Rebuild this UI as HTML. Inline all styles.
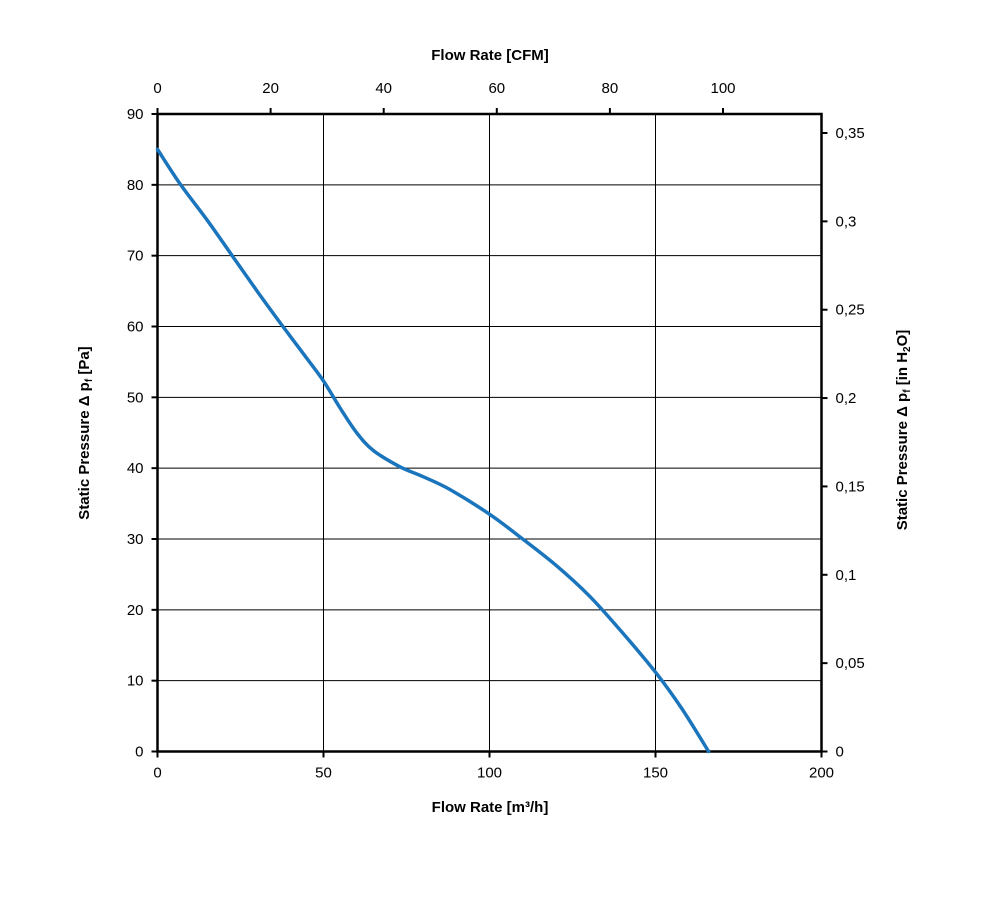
<!DOCTYPE html>
<html><head><meta charset="utf-8"><style>
html,body{margin:0;padding:0;background:#fff;}
svg{display:block;font-family:"Liberation Sans",Arial,sans-serif;}
</style></head><body>
<svg id="c" width="1000" height="900" viewBox="0 0 1000 900"></svg>
<script>
const flowM3h=[0,7,15,22.5,30,37,45,50,55,60,65,73,80,88,100,110,120,130,140,150,158,166];
const pressurePa=[85,80,75,70,65,60.5,55.5,52.3,48.5,45,42.5,40.2,38.8,37,33.5,30,26.3,22,16.8,11.2,6,0];
const xTicks=[0,50,100,150,200];
const yTicks=[0,10,20,30,40,50,60,70,80,90];
const cfmTicks=[0,20,40,60,80,100];
const inTicks=[0,0.05,0.1,0.15,0.2,0.25,0.3,0.35];
const inLabels=["0","0,05","0,1","0,15","0,2","0,25","0,3","0,35"];
const L=157.5,R=821.5,T=114,B=751.5;
const X=v=>L+(R-L)*v/200, Y=v=>B-(B-T)*v/90;
const XC=v=>L+v*5.655, YI=v=>B-v*(B-133)/0.35;
const s=document.getElementById('c'),NS='http://www.w3.org/2000/svg';
function el(t,a,p){const e=document.createElementNS(NS,t);for(const k in a)e.setAttribute(k,a[k]);(p||s).appendChild(e);return e;}
function txt(x,y,str,anchor,name,extra){const e=el('text',Object.assign({x:x,y:y,'font-size':15,'text-anchor':anchor,fill:'#000'},extra||{}));e.textContent=str;


return e;}
const g=el('g',{});


xTicks.forEach(v=>{if(v>0&&v<200){const l=el('line',{x1:X(v),x2:X(v),y1:T,y2:B,stroke:'#000','stroke-width':1},g);}});
yTicks.forEach(v=>{if(v>0&&v<90){const l=el('line',{x1:L,x2:R,y1:Y(v),y2:Y(v),stroke:'#000','stroke-width':1},g);}});
const fr=el('rect',{x:L,y:T,width:R-L,height:B-T,fill:'none',stroke:'#000','stroke-width':2.5});


xTicks.forEach(v=>{el('line',{x1:X(v),x2:X(v),y1:B,y2:B+6,stroke:'#000','stroke-width':2});txt(X(v),B+26,String(v),'middle','x-tick-label');});
yTicks.forEach(v=>{el('line',{x1:L-6,x2:L,y1:Y(v),y2:Y(v),stroke:'#000','stroke-width':2});txt(L-14,Y(v)+5,String(v),'end','y-tick-label');});
cfmTicks.forEach(v=>{el('line',{x1:XC(v),x2:XC(v),y1:T-6,y2:T,stroke:'#000','stroke-width':2});txt(XC(v),T-21,String(v),'middle','cfm-tick-label');});
inTicks.forEach((v,i)=>{el('line',{x1:R,x2:R+6,y1:YI(v),y2:YI(v),stroke:'#000','stroke-width':2});txt(R+14,YI(v)+5,inLabels[i],'start','inh2o-tick-label');});
const pts=flowM3h.map((v,i)=>[X(v),Y(pressurePa[i])]);
let d='M'+pts[0][0].toFixed(1)+' '+pts[0][1].toFixed(1);
for(let i=0;i<pts.length-1;i++){const p0=pts[Math.max(0,i-1)],p1=pts[i],p2=pts[i+1],p3=pts[Math.min(pts.length-1,i+2)];
const c1=[p1[0]+(p2[0]-p0[0])/6,p1[1]+(p2[1]-p0[1])/6],c2=[p2[0]-(p3[0]-p1[0])/6,p2[1]-(p3[1]-p1[1])/6];
d+=' C'+c1.map(n=>n.toFixed(1)).join(' ')+' '+c2.map(n=>n.toFixed(1)).join(' ')+' '+p2.map(n=>n.toFixed(1)).join(' ');}
const p=el('path',{d:d,fill:'none',stroke:'#1a75bc','stroke-width':3.5,'stroke-linejoin':'round','stroke-linecap':'round'});


txt(490,812,'Flow Rate  [m³/h]','middle','x-axis-title',{'font-weight':'bold','font-size':15});
txt(490,60,'Flow Rate  [CFM]','middle','top-axis-title',{'font-weight':'bold','font-size':15});
const yt=txt(0,0,'Static Pressure Δ p','middle','y-axis-title',{'font-weight':'bold','font-size':15,transform:'translate(89,433) rotate(-90)'});
const ts=el('tspan',{'font-size':10,dy:3},yt);ts.textContent='f';
const ts2=el('tspan',{dy:-3},yt);ts2.textContent=' [Pa]';
const rt=txt(0,0,'Static Pressure Δ p','middle','right-axis-title',{'font-weight':'bold','font-size':15,transform:'translate(907,430) rotate(-90)'});
const r1=el('tspan',{'font-size':10,dy:3},rt);r1.textContent='f';
const r2=el('tspan',{dy:-3},rt);r2.textContent=' [in H';
const r3=el('tspan',{'font-size':10,dy:3},rt);r3.textContent='2';
const r4=el('tspan',{dy:-3},rt);r4.textContent='O]';
</script>
</body></html>
